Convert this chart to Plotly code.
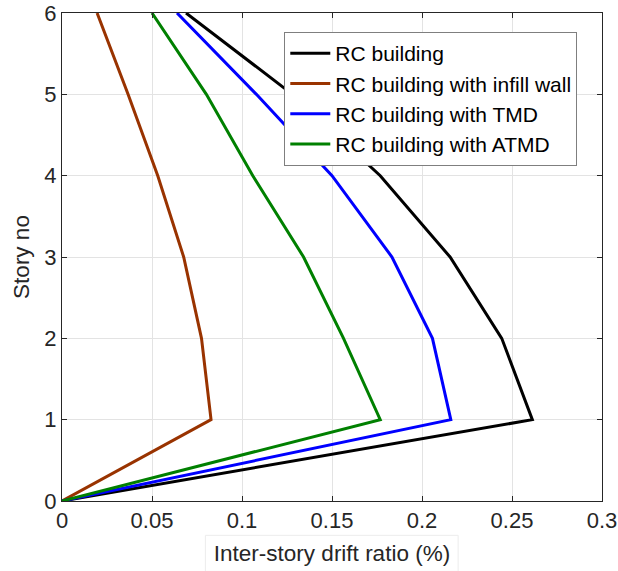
import plotly.graph_objects as go

# Story levels and inter-story drift ratios (%) for each building model
stories = [0, 1, 2, 3, 4, 5, 6]
drift_rc = [0, 0.2613, 0.2443, 0.2156, 0.1768, 0.128, 0.0689]
drift_infill = [0, 0.0828, 0.0775, 0.0676, 0.0532, 0.0367, 0.0195]
drift_tmd = [0, 0.2160, 0.2058, 0.1833, 0.1500, 0.108, 0.0639]
drift_atmd = [0, 0.1768, 0.1564, 0.1342, 0.1060, 0.0802, 0.0500]

series_names = [
    "RC building",
    "RC building with infill wall",
    "RC building with TMD",
    "RC building with ATMD",
]
series_colors = ["#000000", "#993300", "#0000FF", "#008000"]
series_values = [drift_rc, drift_infill, drift_tmd, drift_atmd]

x_ticks = [0, 0.05, 0.1, 0.15, 0.2, 0.25, 0.3]
y_ticks = [0, 1, 2, 3, 4, 5, 6]

FONT = "Arial, Liberation Sans, sans-serif"

fig = go.Figure()
for name, color, vals in zip(series_names, series_colors, series_values):
    fig.add_trace(go.Scatter(
        x=vals, y=stories, mode="lines", name=name,
        line=dict(color=color, width=3),
    ))

axis_common = dict(
    showline=True, linecolor="#262626", linewidth=1, mirror="ticks",
    ticks="inside", ticklen=5, tickcolor="#262626",
    showgrid=True, gridcolor="#e3e3e3", gridwidth=1,
    zeroline=False, automargin=False,
    tickfont=dict(family=FONT, size=22, color="#262626"),
)

fig.update_xaxes(
    range=[0, 0.3], tickvals=x_ticks,
    title=dict(text="Inter-story drift ratio (%)", standoff=12,
               font=dict(family=FONT, size=22.5, color="#262626")),
    **axis_common,
)
fig.update_yaxes(
    range=[0, 6], tickvals=y_ticks,
    title=dict(text="Story no", standoff=8,
               font=dict(family=FONT, size=22.5, color="#262626")),
    **axis_common,
)

# faint frame around the x-axis title
fig.add_shape(
    type="rect", xref="paper", yref="paper",
    x0=(205 - 61.5) / 540.5, x1=(458 - 61.5) / 540.5,
    y0=(500.7 - 571) / 487.4, y1=(500.7 - 535) / 487.4,
    line=dict(color="#ececec", width=1), fillcolor="rgba(0,0,0,0)",
)

fig.update_layout(
    width=618, height=571,
    margin=dict(l=61.5, r=16, t=13.3, b=70.3),
    plot_bgcolor="white", paper_bgcolor="white",
    legend=dict(
        x=(284 - 61.5) / 540.5, y=(500.7 - 32.3) / 487.4,
        xanchor="left", yanchor="top",
        bgcolor="white", bordercolor="#7f7f7f", borderwidth=1,
        font=dict(family=FONT, size=21, color="#000000"),
        itemwidth=40, tracegroupgap=0,
    ),
    showlegend=True,
)

fig.write_html("out.html")
